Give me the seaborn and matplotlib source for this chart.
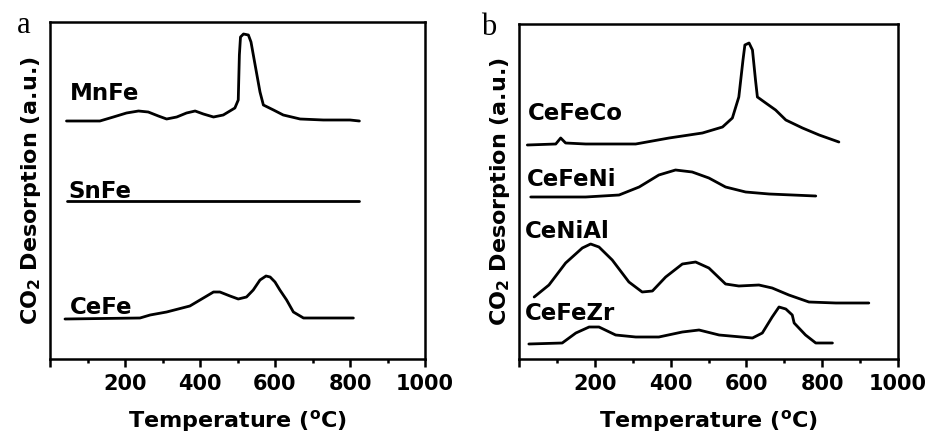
import numpy as np
import pandas as pd
import matplotlib
matplotlib.use("Agg")
import matplotlib.pyplot as plt
import seaborn as sns
from matplotlib.ticker import MultipleLocator

# ---------------- data (temperature in °C, signal in arbitrary units) ----------------
mnfe_t = [44, 133, 169, 204, 236, 262, 289, 311, 338, 364, 387, 409, 436, 462, 493, 502,
          505, 508, 516, 529, 536, 547, 560, 569, 596, 622, 667, 729, 800, 825]
mnfe_y = [238, 238, 242, 246, 248, 247, 243, 240, 242, 246, 248, 245, 242, 244, 251, 259,
          304, 322, 325, 324, 317, 294, 267, 254, 249, 244, 240, 239, 239, 238]

snfe_t = [44, 825]
snfe_y = [158, 158]

cefe_t = [40, 240, 267, 311, 373, 409, 436, 453, 480, 502, 524, 542, 560, 576, 587, 600,
          613, 631, 649, 676, 809]
cefe_y = [40, 41, 44, 47, 53, 61, 67, 67, 63, 60, 62, 69, 79, 83, 82, 77,
          69, 59, 47, 41, 41]

cefeco_t = [22, 97, 110, 123, 176, 308, 396, 484, 537, 563, 580, 591, 596, 607, 616, 624,
            629, 651, 677, 704, 748, 792, 844]
cefeco_y = [214, 215, 221, 216, 215, 215, 221, 226, 232, 241, 262, 299, 314, 316, 309, 279,
            262, 256, 249, 239, 231, 224, 217]

cefeni_t = [31, 176, 264, 317, 369, 413, 457, 501, 545, 598, 660, 783]
cefeni_y = [162, 162, 164, 172, 184, 189, 187, 181, 172, 167, 165, 163]

ceniai_t = [40, 79, 123, 167, 189, 211, 246, 290, 325, 352, 387, 431, 466, 501, 545, 580,
            633, 668, 712, 765, 836, 923]
ceniai_y = [62, 74, 96, 111, 115, 112, 99, 77, 67, 68, 82, 95, 97, 91, 75, 73,
            74, 71, 64, 57, 56, 56]

cefezr_t = [26, 114, 150, 185, 211, 255, 308, 369, 431, 475, 528, 616, 642, 668, 686, 704,
            721, 726, 756, 783, 827]
cefezr_y = [15, 16, 26, 32, 32, 24, 22, 22, 27, 29, 24, 21, 26, 42, 52, 50,
            44, 36, 24, 16, 16]

panel_a = [("MnFe", mnfe_t, mnfe_y), ("SnFe", snfe_t, snfe_y), ("CeFe", cefe_t, cefe_y)]
panel_b = [("CeFeCo", cefeco_t, cefeco_y), ("CeFeNi", cefeni_t, cefeni_y),
           ("CeNiAl", ceniai_t, ceniai_y), ("CeFeZr", cefezr_t, cefezr_y)]

labels_a = {"MnFe": (53, 266), "SnFe": (48, 167), "CeFe": (53, 52)}
labels_b = {"CeFeCo": (24, 246), "CeFeNi": (20, 180), "CeNiAl": (16, 127), "CeFeZr": (16, 45)}

xticks = [0, 200, 400, 600, 800, 1000]
xticklabels = ["", "200", "400", "600", "800", "1000"]

# ---------------- style ----------------
sns.set_style("ticks")
plt.rcParams["font.family"] = ["DejaVu Sans"]
plt.rcParams["font.weight"] = "bold"
plt.rcParams["text.color"] = "black"
plt.rcParams["axes.labelcolor"] = "black"
plt.rcParams["xtick.color"] = "black"
plt.rcParams["ytick.color"] = "black"
plt.rcParams["axes.edgecolor"] = "black"
plt.rcParams["mathtext.fontset"] = "custom"
plt.rcParams["mathtext.rm"] = "DejaVu Sans:bold"
plt.rcParams["mathtext.bf"] = "DejaVu Sans:bold"
plt.rcParams["mathtext.it"] = "DejaVu Sans:bold"

fig = plt.figure(figsize=(9.4, 4.37), dpi=100)
W, H = 940, 437
ax_a = fig.add_axes([50 / W, (H - 359) / H, 375 / W, (359 - 22) / H])
ax_b = fig.add_axes([519 / W, (H - 359) / H, 379 / W, (359 - 24) / H])


def setup(ax, series, labels, ytop):
    frames = []
    for name, t, y in series:
        frames.append(pd.DataFrame({"T": t, "S": y, "sample": name}))
    df = pd.concat(frames, ignore_index=True)
    sns.lineplot(data=df, x="T", y="S", units="sample", estimator=None,
                 color="black", lw=2.0, ax=ax, sort=False, legend=False)
    for name, (x, y) in labels.items():
        ax.text(x, y, name, fontsize=16.5, fontweight="bold", ha="left", va="center",
                color="black")
    ax.set_xlim(0, 1000)
    ax.set_ylim(0, ytop)
    ax.set_yticks([])
    ax.set_xticks(xticks)
    ax.set_xticklabels(xticklabels, fontsize=15, fontweight="bold")
    ax.xaxis.set_minor_locator(MultipleLocator(100))
    ax.tick_params(axis="x", which="major", direction="out", length=6, width=1.8, pad=5,
                   colors="black")
    ax.tick_params(axis="x", which="minor", direction="out", length=3, width=1.8,
                   colors="black")
    for s in ax.spines.values():
        s.set_visible(True)
        s.set_linewidth(1.8)
        s.set_color("black")
    ax.set_xlabel("Temperature ($^{\\mathrm{o}}$C)", fontsize=16, fontweight="bold",
                  labelpad=10, color="black")
    ax.set_ylabel("CO$_2$ Desorption (a.u.)", fontsize=16, fontweight="bold",
                  labelpad=5, color="black")


setup(ax_a, panel_a, labels_a, 337)
setup(ax_b, panel_b, labels_b, 335)

fig.text(17 / W, 1 - 33 / H, "a", fontsize=22, family="Liberation Serif",
         fontweight="normal", color="black")
fig.text(481 / W, 1 - 35 / H, "b", fontsize=22, family="Liberation Serif",
         fontweight="normal", color="black")

fig.savefig("out.png", dpi=100)
